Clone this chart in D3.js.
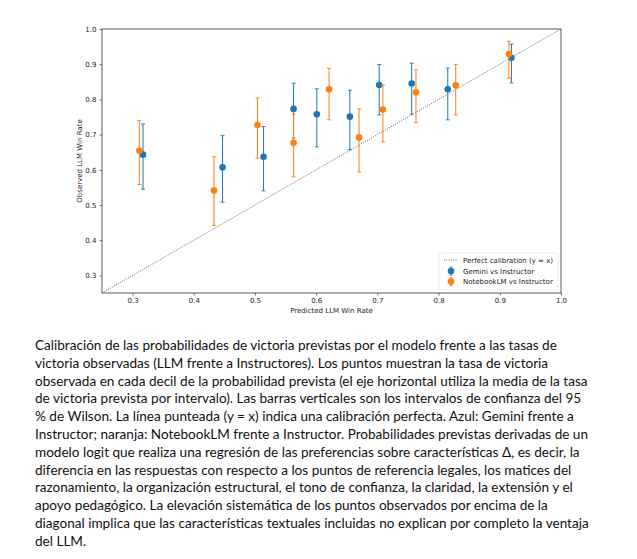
<!DOCTYPE html>
<html>
<head>
<meta charset="utf-8">
<script src="https://cdn.jsdelivr.net/npm/d3@7"></script>
<style>
  body { margin: 0; background: #fff; }
  .tick text { font-family: "DejaVu Sans", sans-serif; font-size: 7px; fill: #222; }
  .axis-text { font-family: "DejaVu Sans", sans-serif; font-size: 7px; fill: #222; }
  .caption { font-family: Lato, "Noto Sans", sans-serif; fill: #111; }
</style>
</head>
<body>
<div id="chart"></div>
<script>
// Data
var xTicks = [0.3, 0.4, 0.5, 0.6, 0.7, 0.8, 0.9, 1.0];
var yTicks = [0.3, 0.4, 0.5, 0.6, 0.7, 0.8, 0.9, 1.0];

var geminiX  = [0.317, 0.447, 0.514, 0.563, 0.601, 0.655, 0.703, 0.756, 0.815, 0.919];
var geminiY  = [0.643, 0.607, 0.637, 0.773, 0.758, 0.751, 0.841, 0.845, 0.829, 0.918];
var geminiLo = [0.545, 0.508, 0.540, 0.690, 0.665, 0.657, 0.756, 0.758, 0.742, 0.847];
var geminiHi = [0.730, 0.697, 0.723, 0.846, 0.830, 0.826, 0.899, 0.903, 0.889, 0.957];

var notebookX  = [0.311, 0.433, 0.504, 0.563, 0.621, 0.670, 0.709, 0.763, 0.828, 0.915];
var notebookY  = [0.654, 0.541, 0.727, 0.677, 0.829, 0.692, 0.771, 0.820, 0.840, 0.929];
var notebookLo = [0.558, 0.442, 0.633, 0.580, 0.742, 0.594, 0.679, 0.734, 0.756, 0.860];
var notebookHi = [0.740, 0.637, 0.804, 0.758, 0.888, 0.773, 0.841, 0.884, 0.899, 0.965];

var seriesNames = ["Gemini vs Instructor", "NotebookLM vs Instructor"];
var diagonalName = "Perfect calibration (y = x)";

var captionLines = [
  "Calibración de las probabilidades de victoria previstas por el modelo frente a las tasas de",
  "victoria observadas (LLM frente a Instructores). Los puntos muestran la tasa de victoria",
  "observada en cada decil de la probabilidad prevista (el eje horizontal utiliza la media de la tasa",
  "de victoria prevista por intervalo). Las barras verticales son los intervalos de confianza del 95",
  "% de Wilson. La línea punteada (y = x) indica una calibración perfecta. Azul: Gemini frente a",
  "Instructor; naranja: NotebookLM frente a Instructor. Probabilidades previstas derivadas de un",
  "modelo logit que realiza una regresión de las preferencias sobre características Δ, es decir, la",
  "diferencia en las respuestas con respecto a los puntos de referencia legales, los matices del",
  "razonamiento, la organización estructural, el tono de confianza, la claridad, la extensión y el",
  "apoyo pedagógico. La elevación sistemática de los puntos observados por encima de la",
  "diagonal implica que las características textuales incluidas no explican por completo la ventaja",
  "del LLM."
];

var svgWidth = 637;
var svgHeight = 559;

var margin = { top: 29, left: 102 };
var width = 459;
var height = 264;

var svg = d3.select("#chart")
  .append("svg")
  .attr("width", svgWidth)
  .attr("height", svgHeight);

svg.append("rect")
  .attr("width", svgWidth)
  .attr("height", svgHeight)
  .attr("fill", "#fff");

var chartGroup = svg.append("g")
  .attr("transform", `translate(${margin.left}, ${margin.top})`);

var xScale = d3.scaleLinear().domain([0.25, 1.0]).range([0, width]);
var yScale = d3.scaleLinear().domain([0.25, 1.0]).range([height, 0]);

// axes
var bottomAxis = d3.axisBottom(xScale).tickValues(xTicks).tickFormat(d3.format(".1f")).tickSize(2.5).tickPadding(3);
var leftAxis = d3.axisLeft(yScale).tickValues(yTicks).tickFormat(d3.format(".1f")).tickSize(2.5).tickPadding(3);

var xAxis = chartGroup.append("g")
  .attr("transform", `translate(0, ${height})`)
  .call(bottomAxis);
var yAxis = chartGroup.append("g")
  .call(leftAxis);

[xAxis, yAxis].forEach(function(ax) {
  ax.select(".domain").remove();
  ax.selectAll(".tick line").attr("stroke", "#333").attr("stroke-width", 0.7);
});

// frame
chartGroup.append("rect")
  .attr("width", width)
  .attr("height", height)
  .attr("fill", "none")
  .attr("stroke", "#333")
  .attr("stroke-width", 0.8);

// diagonal
chartGroup.append("line")
  .attr("x1", xScale(0.25))
  .attr("y1", yScale(0.25))
  .attr("x2", xScale(1.0))
  .attr("y2", yScale(1.0))
  .attr("stroke", "#444")
  .attr("stroke-width", 0.8)
  .attr("stroke-dasharray", "1,1.3");

// series
function drawSeries(xs, ys, lo, hi, color) {
  var data = xs.map(function(x, i) {
    return { x: x, y: ys[i], lo: lo[i], hi: hi[i] };
  });
  var g = chartGroup.append("g");
  var bars = g.selectAll(".bar").data(data).enter().append("g");
  bars.append("line")
    .attr("x1", d => xScale(d.x)).attr("x2", d => xScale(d.x))
    .attr("y1", d => yScale(d.lo)).attr("y2", d => yScale(d.hi))
    .attr("stroke", color).attr("stroke-width", 1);
  ["lo", "hi"].forEach(function(k) {
    bars.append("line")
      .attr("x1", d => xScale(d.x) - 2).attr("x2", d => xScale(d.x) + 2)
      .attr("y1", d => yScale(d[k])).attr("y2", d => yScale(d[k]))
      .attr("stroke", color).attr("stroke-width", 0.9);
  });
  bars.append("circle")
    .attr("cx", d => xScale(d.x))
    .attr("cy", d => yScale(d.y))
    .attr("r", 3.3)
    .attr("fill", color);
}

drawSeries(geminiX, geminiY, geminiLo, geminiHi, "#1f77b4");
drawSeries(notebookX, notebookY, notebookLo, notebookHi, "#ff7f0e");

// axis labels
chartGroup.append("text")
  .attr("class", "axis-text")
  .attr("x", width / 2)
  .attr("y", height + 20)
  .attr("text-anchor", "middle")
  .text("Predicted LLM Win Rate");

chartGroup.append("text")
  .attr("class", "axis-text")
  .attr("transform", "rotate(-90)")
  .attr("x", -height / 2)
  .attr("y", -20)
  .attr("text-anchor", "middle")
  .text("Observed LLM Win Rate");

// legend
var legend = chartGroup.append("g")
  .attr("transform", `translate(${width - 122}, ${height - 40})`);

legend.append("rect")
  .attr("width", 119)
  .attr("height", 37)
  .attr("rx", 2)
  .attr("fill", "#fff")
  .attr("fill-opacity", 0.8)
  .attr("stroke", "#ddd")
  .attr("stroke-width", 0.6);

legend.append("line")
  .attr("x1", 5).attr("x2", 19).attr("y1", 7).attr("y2", 7)
  .attr("stroke", "#444").attr("stroke-width", 0.8).attr("stroke-dasharray", "1,1.3");
legend.append("text")
  .attr("class", "axis-text")
  .attr("x", 24).attr("y", 9.5)
  .text(diagonalName);

["#1f77b4", "#ff7f0e"].forEach(function(color, i) {
  var cy = 18 + i * 10.5;
  legend.append("line")
    .attr("x1", 12).attr("x2", 12).attr("y1", cy - 4).attr("y2", cy + 4)
    .attr("stroke", color).attr("stroke-width", 1);
  legend.append("line")
    .attr("x1", 10.5).attr("x2", 13.5).attr("y1", cy - 4).attr("y2", cy - 4)
    .attr("stroke", color).attr("stroke-width", 0.8);
  legend.append("line")
    .attr("x1", 10.5).attr("x2", 13.5).attr("y1", cy + 4).attr("y2", cy + 4)
    .attr("stroke", color).attr("stroke-width", 0.8);
  legend.append("circle")
    .attr("cx", 12).attr("cy", cy).attr("r", 3.3).attr("fill", color);
  legend.append("text")
    .attr("class", "axis-text")
    .attr("x", 24).attr("y", cy + 2.5)
    .text(seriesNames[i]);
});

// caption
var caption = svg.append("g");
var captionText = caption.selectAll("text")
  .data(captionLines)
  .enter()
  .append("text")
  .attr("class", "caption")
  .attr("x", 35)
  .attr("y", (d, i) => 350 + i * 17.8)
  .style("font-size", "14px")
  .text(d => d);

// fit font size so the longest line spans like the reference
var longest = captionText.filter((d, i) => i === 2).node().getComputedTextLength();
var size = 14 * 553 / longest;
captionText.style("font-size", size + "px");
</script>
</body>
</html>
